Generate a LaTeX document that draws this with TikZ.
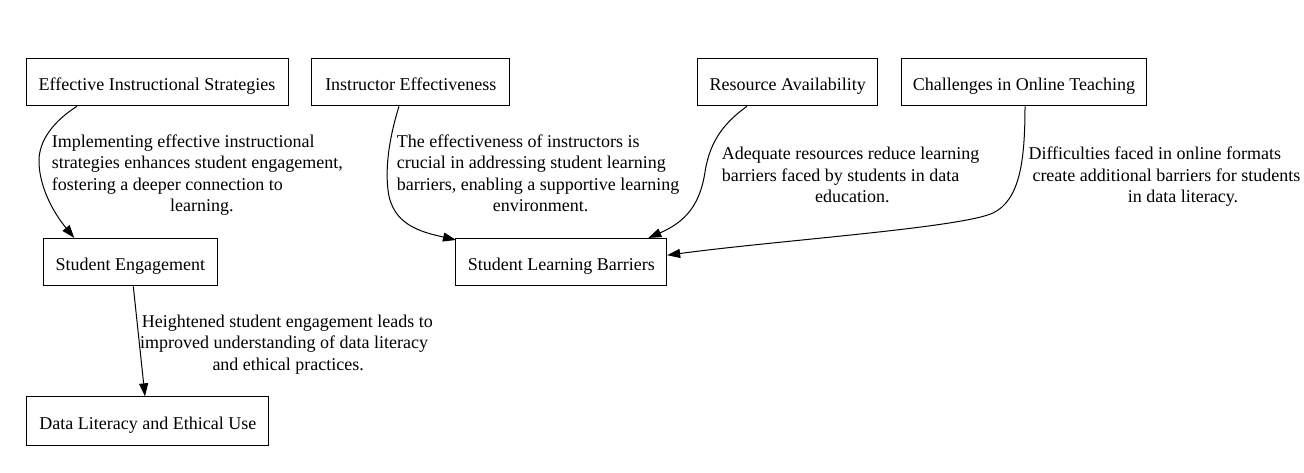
\documentclass[tikz,border=0pt]{standalone}
\usepackage{fontspec}
\setmainfont{Liberation Serif}
\usetikzlibrary{arrows.meta}
\tikzset{
  box/.style={draw, line width=1pt, minimum height=47.5pt, inner sep=0pt, text height=16pt, text depth=0pt, anchor=center, font=\fontsize{18}{21.5}\selectfont},
  elabel/.style={anchor=base west, inner sep=0pt, align=left, font=\fontsize{18}{21.5}\selectfont},
  conn/.style={line width=1pt, -{Triangle[length=13pt,width=9pt]}}
}
\begin{document}
\begin{tikzpicture}[x=1pt,y=-1pt]
\useasboundingbox (0,0) rectangle (1304,472);
% nodes
\node[box, minimum width=262pt] (eis) at (157,82) {Effective Instructional Strategies};
\node[box, minimum width=198.3pt] (ie) at (410.8,82) {Instructor Effectiveness};
\node[box, minimum width=179.5pt] (ra) at (787.7,82) {Resource Availability};
\node[box, minimum width=245pt] (cot) at (1023.9,82) {Challenges in Online Teaching};
\node[box, minimum width=174pt] (se) at (130.3,262.2) {Student Engagement};
\node[box, minimum width=210.7pt] (slb) at (561.3,262.2) {Student Learning Barriers};
\node[box, minimum width=242.3pt, minimum height=48.3pt] (dleu) at (147.8,421) {Data Literacy and Ethical Use};
% edge labels (anchored at the baseline of their last line)
\node[elabel] (l1) at (51.7,211.5) {Implementing effective instructional\\strategies enhances student engagement,\\fostering a deeper connection to\\\hspace*{118.3pt}learning.};
\node[elabel] (l2) at (396.7,211.5) {The effectiveness of instructors is\\crucial in addressing student learning\\barriers, enabling a supportive learning\\\hspace*{96pt}environment.};
\node[elabel] (l3) at (721.7,202.5) {Adequate resources reduce learning\\barriers faced by students in data\\\hspace*{93.3pt}education.};
\node[elabel] (l4) at (1028.3,202.5) {Difficulties faced in online formats\\\hspace*{4pt}create additional barriers for students\\\hspace*{99.4pt}in data literacy.};
\node[elabel] (l5) at (140,370) {\hspace*{1.7pt}Heightened student engagement leads to\\improved understanding of data literacy\\\hspace*{72.3pt}and ethical practices.};
% connectors
\draw[conn] ([xshift=-80pt]eis.south) .. controls +(-22,14) and +(-1,-23) .. (39,163)
  .. controls +(1,27) and +(-19,-23) .. ([xshift=-56pt]se.north);
\draw[conn] ([xshift=-11.8pt]ie.south) .. controls +(-9,29) and +(-3,-25) .. (388,190)
  .. controls +(4,35) and +(-35,-8) .. ([xshift=-105.3pt,yshift=-2pt]slb.north);
\draw[conn] ([xshift=-40.7pt]ra.south) .. controls +(-22,16) and +(5,-32) .. (705,172)
  .. controls +(-5,33) and +(37,-16) .. ([xshift=87pt]slb.north);
\draw[conn] ([xshift=1.1pt]cot.south) .. controls +(0,54) and +(27,-13) .. (993,213)
  .. controls +(-33,15) and +(112,-15) .. ([yshift=7pt]slb.east);
\draw[conn] ([xshift=3pt]se.south) -- ([xshift=-2.8pt]dleu.north);
\end{tikzpicture}
\end{document}
